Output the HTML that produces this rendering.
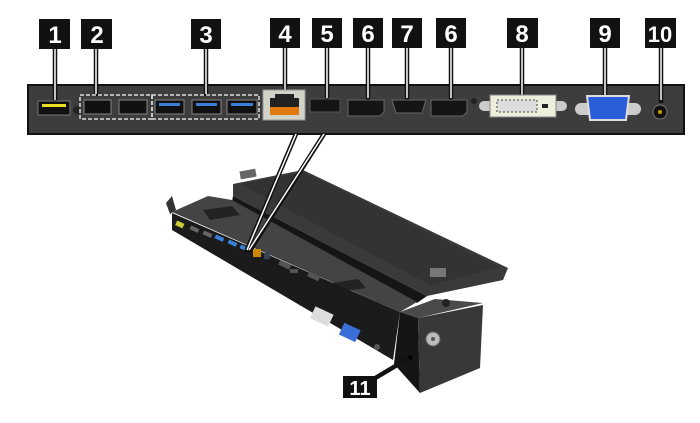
<!DOCTYPE html>
<html><head><style>
html,body{margin:0;padding:0;background:#fff;}
svg{display:block;}
text{font-family:"Liberation Sans",sans-serif;font-weight:bold;fill:#fff;text-anchor:middle;}
</style></head><body>
<svg width="700" height="423" viewBox="0 0 700 423" xmlns="http://www.w3.org/2000/svg">
<!-- panel -->
<rect x="28" y="85" width="656" height="49" fill="#3d3d3d" stroke="#111" stroke-width="2"/>
<!-- dock -->
<polygon points="233,184 303,170 508,268 503,280 427,296 233,196" fill="#3a3a3a"/>
<polygon points="240,184 303,172 500,267 430,285" fill="#333"/>
<rect x="240" y="170" width="16" height="8" fill="#666" transform="rotate(-10 248 174)"/>
<rect x="430" y="268" width="16" height="9" fill="#777"/>
<polygon points="233,196 427,296 417,303 232,202" fill="#151515"/>
<polygon points="172,212 208,196 232,200 417,302 400,312" fill="#444"/>
<polygon points="203,210 232,206 240,215 210,220" fill="#222"/>
<polygon points="332,283 358,279 366,288 338,292" fill="#222"/>
<polygon points="166,203 172,196 176,210 170,214" fill="#333"/>
<polygon points="172,213 400,312 393,360 172,230" fill="#1b1b1b"/>
<!-- ports on dock -->
<g transform="translate(2,6)">
<rect x="174" y="216" width="8" height="5" fill="#cc3" transform="rotate(25 178 218)"/>
<rect x="188" y="221" width="9" height="4" fill="#666" transform="rotate(25 192 223)"/>
<rect x="201" y="226" width="9" height="4" fill="#666" transform="rotate(25 205 228)"/>
<rect x="213" y="230" width="9" height="4" fill="#3a7fd8" transform="rotate(25 217 232)"/>
<rect x="226" y="235" width="9" height="4" fill="#3a7fd8" transform="rotate(25 230 237)"/>
<rect x="238" y="240" width="9" height="4" fill="#3a7fd8" transform="rotate(25 242 242)"/>
<rect x="251" y="243" width="8" height="8" fill="#c80"/>
<rect x="262" y="247" width="6" height="6" fill="#345"/>
<rect x="277" y="256" width="12" height="5" fill="#555" transform="rotate(25 282 258)"/>
<rect x="288" y="263" width="8" height="4" fill="#555"/>
<rect x="306" y="268" width="12" height="5" fill="#555" transform="rotate(25 312 270)"/>
</g>
<rect x="312" y="310" width="20" height="13" fill="#ddd" transform="rotate(25 322 316)"/>
<rect x="341" y="326" width="18" height="13" fill="#3a6fd8" transform="rotate(25 350 332)"/>
<circle cx="377" cy="347" r="3" fill="#555"/>
<!-- right block -->
<polygon points="400,312 435,299 483,303 418,318" fill="#4a4a4a"/>
<polygon points="400,312 418,318 420,393 394,364" fill="#151515"/>
<polygon points="418,318 483,305 480,368 420,393" fill="#383838"/>
<circle cx="433" cy="339" r="7" fill="#bbb" stroke="#666"/>
<circle cx="433" cy="339" r="2" fill="#555"/>
<circle cx="410" cy="358" r="2.5" fill="#000"/>
<circle cx="446" cy="303" r="4" fill="#222"/>
<!-- leaders -->
<g stroke-linecap="butt">
<g stroke="#111" stroke-width="4.5">
<line x1="55" y1="49" x2="55" y2="104"/><line x1="96" y1="49" x2="96" y2="96"/><line x1="206" y1="48" x2="206" y2="96"/>
<line x1="285" y1="48" x2="285" y2="92"/><line x1="327" y1="48" x2="327" y2="100"/><line x1="368" y1="48" x2="368" y2="100"/>
<line x1="407" y1="48" x2="407" y2="100"/><line x1="451" y1="48" x2="451" y2="100"/><line x1="522" y1="48" x2="522" y2="97"/>
<line x1="605" y1="48" x2="605" y2="97"/><line x1="661" y1="48" x2="661" y2="103"/>
<line x1="296" y1="134" x2="246" y2="252"/><line x1="324" y1="134" x2="249" y2="252"/>
<line x1="372" y1="380" x2="409" y2="358"/>
</g>
<g stroke="#fff" stroke-width="1.5">
<line x1="55" y1="49" x2="55" y2="100"/><line x1="96" y1="49" x2="96" y2="94"/><line x1="206" y1="48" x2="206" y2="94"/>
<line x1="285" y1="48" x2="285" y2="90"/><line x1="327" y1="48" x2="327" y2="98"/><line x1="368" y1="48" x2="368" y2="98"/>
<line x1="407" y1="48" x2="407" y2="98"/><line x1="451" y1="48" x2="451" y2="98"/><line x1="522" y1="48" x2="522" y2="95"/>
<line x1="605" y1="48" x2="605" y2="95"/><line x1="661" y1="48" x2="661" y2="100"/>
<line x1="296" y1="134" x2="247" y2="250"/><line x1="324" y1="134" x2="249" y2="250"/>
</g>
</g>
<!-- labels -->
<g fill="#111">
<rect x="39" y="19" width="31" height="30"/><rect x="81" y="19" width="31" height="30"/><rect x="191" y="19" width="30" height="30"/>
<rect x="270" y="18" width="30" height="30"/><rect x="312" y="18" width="30" height="30"/><rect x="353" y="18" width="30" height="30"/>
<rect x="392" y="18" width="30" height="30"/><rect x="436" y="18" width="30" height="30"/><rect x="507" y="18" width="31" height="30"/>
<rect x="590" y="18" width="30" height="30"/><rect x="645" y="18" width="31" height="30"/><rect x="343" y="376" width="34" height="22"/>
</g>
<g font-size="24">
<text x="55" y="43">1</text><text x="97" y="43">2</text><text x="206" y="43">3</text><text x="285" y="42">4</text>
<text x="327" y="42">5</text><text x="368" y="42">6</text><text x="407" y="42">7</text><text x="451" y="42">6</text>
<text x="522" y="42">8</text><text x="605" y="42">9</text><text x="660" y="42" font-size="22">10</text><text x="360" y="395" font-size="20">11</text>
</g>
<!-- panel ports -->
<rect x="38" y="101" width="32" height="14" fill="#111" stroke="#777"/><rect x="42" y="104" width="24" height="3" fill="#e8e020"/>
<circle cx="77" cy="110" r="4" fill="#222"/>
<rect x="80" y="95" width="72" height="24" fill="none" stroke="#ddd" stroke-dasharray="4,2" stroke-width="1.5"/>
<rect x="152" y="95" width="107" height="24" fill="none" stroke="#ddd" stroke-dasharray="4,2" stroke-width="1.5"/>
<g fill="#111" stroke="#888">
<rect x="84" y="100" width="27" height="14"/><rect x="119" y="100" width="28" height="14"/>
<rect x="155" y="100" width="29" height="14"/><rect x="192" y="100" width="29" height="14"/><rect x="227" y="100" width="30" height="14"/>
</g>
<g fill="#3a7fd8"><rect x="159" y="103" width="21" height="3"/><rect x="196" y="103" width="21" height="3"/><rect x="231" y="103" width="22" height="3"/></g>
<rect x="263" y="90" width="42" height="30" fill="#cfd3c8" stroke="#999"/>
<rect x="270" y="98" width="29" height="17" fill="#e07a10"/><rect x="275" y="94" width="19" height="8" fill="#222"/><rect x="270" y="98" width="29" height="9" fill="#222"/>
<rect x="310" y="99" width="30" height="13" fill="#151515" stroke="#555"/>
<path d="M348 100 h36 v12 l-4 4 h-32z" fill="#151515" stroke="#666"/>
<path d="M392 100 h34 l-4 13 h-26z" fill="#151515" stroke="#666"/>
<path d="M431 100 h36 v12 l-4 4 h-32z" fill="#151515" stroke="#666"/>
<circle cx="474" cy="101" r="3" fill="#222"/>
<rect x="479" y="101" width="88" height="10" rx="5" fill="#ccc"/><rect x="490" y="95" width="66" height="22" fill="#eeeedd" stroke="#888"/>
<rect x="497" y="100" width="40" height="12" fill="#ddd" stroke="#444" stroke-dasharray="2,2"/><rect x="542" y="104" width="6" height="4" fill="#222"/>
<rect x="575" y="103" width="66" height="12" rx="6" fill="#ccc"/>
<path d="M587 96 h42 l-3 24 h-36z" fill="#2a5ed8" stroke="#ddd" stroke-width="2"/>
<circle cx="660" cy="112" r="7" fill="#111" stroke="#777"/><circle cx="660" cy="112" r="2" fill="#c90"/>
</svg>
</body></html>
